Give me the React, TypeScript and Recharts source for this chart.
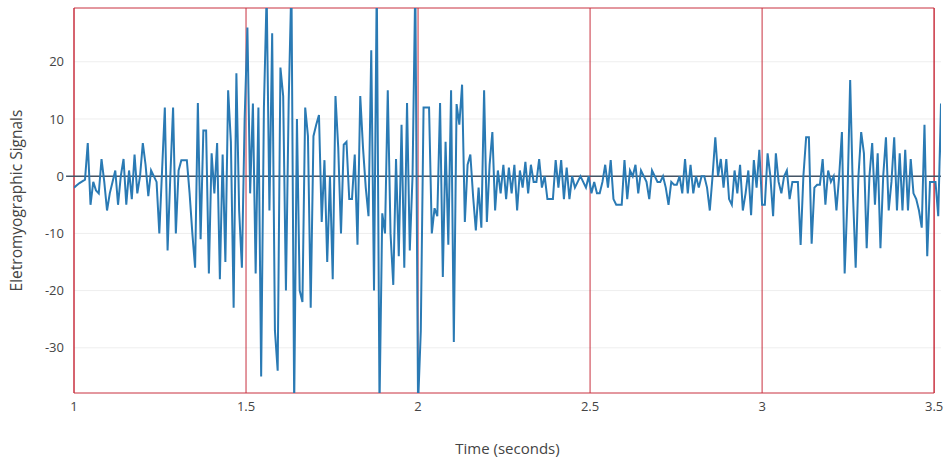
import React from 'react';
import {
  LineChart,
  Line,
  XAxis,
  YAxis,
  CartesianGrid,
  ReferenceLine,
  ReferenceArea,
  Label,
} from 'recharts';

// EMG samples, one every 8 ms starting at t = 1 s
const START_TIME = 1;
const SAMPLE_STEP = 0.008;

const emgSignal = [
  -2, -1.6, -1.2, -0.9, -0.6, 5.8, -5, -1, -2.5, -3,
  3, -1, -6, -3, -1, 1, -5, 0, 3, -5,
  1, -4, 3.8, -3, 0, 5.8, 2, -3.5, 1, 0,
  -1, -10, 1, 12, -13, 0, 12, -10, 1, 2.8,
  2.8, 2.8, -3, -10, -16, 12.8, -11, 8, 8, -17,
  4, -3, 5.8, -18, 3.8, -15, 15, 6, -23, 18,
  -6, -16, 10, 26, -3, 12.7, -17, 12, -35, 12,
  32, -6, 25, -27, -34, 19, 14, -20, 13, 34,
  -40, 10, -20, -22, 12, 7, -23, 7, 9, 10.7,
  -8, 2.8, -15, 0, -18, 14, 5, -10, 5.5, 6,
  -4, -4, 3.8, -12, 14, 5, -2, -7, 22, -20,
  34, -40, -6.5, -10, 15, -10, -19, 3, -14, 9,
  -16, 12.8, -13, 0, 34, -40, -27, 12, 12, 12,
  -10, -5.6, -7, 12.8, -17.6, 6, -12, 15, -29, 12.6,
  9, 16, -8, 2, 3.8, -3.5, -9.5, -2, -9, 15,
  -8, 2, 7.7, -6, 1, -3, 2, -4, 1.5, -3,
  2, -6, 1, -2, 2.5, -3, 2, -1, -1, 3,
  -2, 0, -4, -4, -4, 2.8, -2, 2.8, -4, 1.5,
  -4, 0, -2, -1, 0, -1, -2, 0, -3, -1,
  -3, -3, -1, 2, -2, 2.8, -4, -5, -5, -5,
  2.8, -4, 1, 0, 2, -3, 1, 0, -1, -4,
  1, 0, -1, -1, 0, -2, -5, -1, -1.5, -1.5,
  0, -3, 3, -3, 2, -3, 0, -2, 0, 0,
  -2, -6, 0, 6.8, 0, 3, -2, 3, -4, -5,
  1, -3, 2, -6, -3, 1, -6.8, 2.8, -2, 4.6,
  -5, -5, 4, 0, -7, 4, -1, -3, 0, 1,
  -4, -1, -1, -1, -12, 0, 6.8, 6.8, -11.8, -2,
  -1.5, -1.5, 3, -5, 1, -1, 0, -6, 0, 7.7,
  -17, -4, 16.8, -3, -16, 0, 7.7, 4, -12.6, 0,
  5.8, -5, 4, -12.6, 0, 6.8, -6, -1, 6.8, -6,
  4, -6, 4.6, -6, 3, -3, -4, -6, -9, 9,
  -14, -1, -1, -1, -7, 12.7, -15,
];

const xTicks = [1, 1.5, 2, 2.5, 3, 3.5];
const yTicks = [-30, -20, -10, 0, 10, 20];

const X_MIN = 1;
const X_MAX = 3.52;
const Y_MIN = -37.9;
const Y_MAX = 29.4;

const data = emgSignal.map((v, i) => ({
  t: +(START_TIME + i * SAMPLE_STEP).toFixed(3),
  emg: v,
}));

const RED = '#c8303f';
const FONT = '"Open Sans", "Noto Sans", sans-serif';

export default function App() {
  return (
    <div style={{ position: 'absolute', left: 0, top: 0, background: '#fff', fontFamily: FONT }}>
      <LineChart
        width={944}
        height={459}
        data={data}
        margin={{ top: 8, right: 3, bottom: 0, left: 0 }}
      >
        <CartesianGrid vertical={false} stroke="#eeeeee" horizontalValues={yTicks} />
        <XAxis
          type="number"
          dataKey="t"
          domain={[X_MIN, X_MAX]}
          ticks={xTicks}
          allowDataOverflow
          axisLine={false}
          tickLine={false}
          tickSize={6}
          tickMargin={3}
          height={66}
          tick={{ fill: '#444', fontSize: 13, fontFamily: FONT }}
        >
          <Label
            value="Time (seconds)"
            position="insideBottom"
            offset={5}
            style={{ fill: '#444', fontSize: 15, fontFamily: FONT }}
          />
        </XAxis>
        <YAxis
          type="number"
          domain={[Y_MIN, Y_MAX]}
          ticks={yTicks}
          allowDataOverflow
          axisLine={false}
          tickLine={false}
          tickSize={6}
          tickMargin={4}
          width={74}
          tick={{ fill: '#444', fontSize: 13, fontFamily: FONT }}
        >
          <Label
            value="Eletromyographic Signals"
            angle={-90}
            position="insideLeft"
            offset={16}
            style={{ textAnchor: 'middle', fill: '#444', fontSize: 15.5, fontFamily: FONT }}
          />
        </YAxis>
        {xTicks.map((x) => (
          <ReferenceLine key={x} x={x} stroke={RED} strokeWidth={1} />
        ))}
        <ReferenceArea
          x1={X_MIN}
          x2={3.5}
          y1={Y_MIN}
          y2={Y_MAX}
          fill="none"
          stroke={RED}
          strokeWidth={1}
          fillOpacity={0}
        />
        <ReferenceLine
          segment={[{ x: 0.977, y: 0 }, { x: X_MAX, y: 0 }]}
          ifOverflow="visible"
          stroke="#445566"
          strokeWidth={1.5}
        />
        <Line
          type="linear"
          dataKey="emg"
          stroke="#2a7ab4"
          strokeWidth={2}
          dot={false}
          isAnimationActive={false}
        />
      </LineChart>
    </div>
  );
}
